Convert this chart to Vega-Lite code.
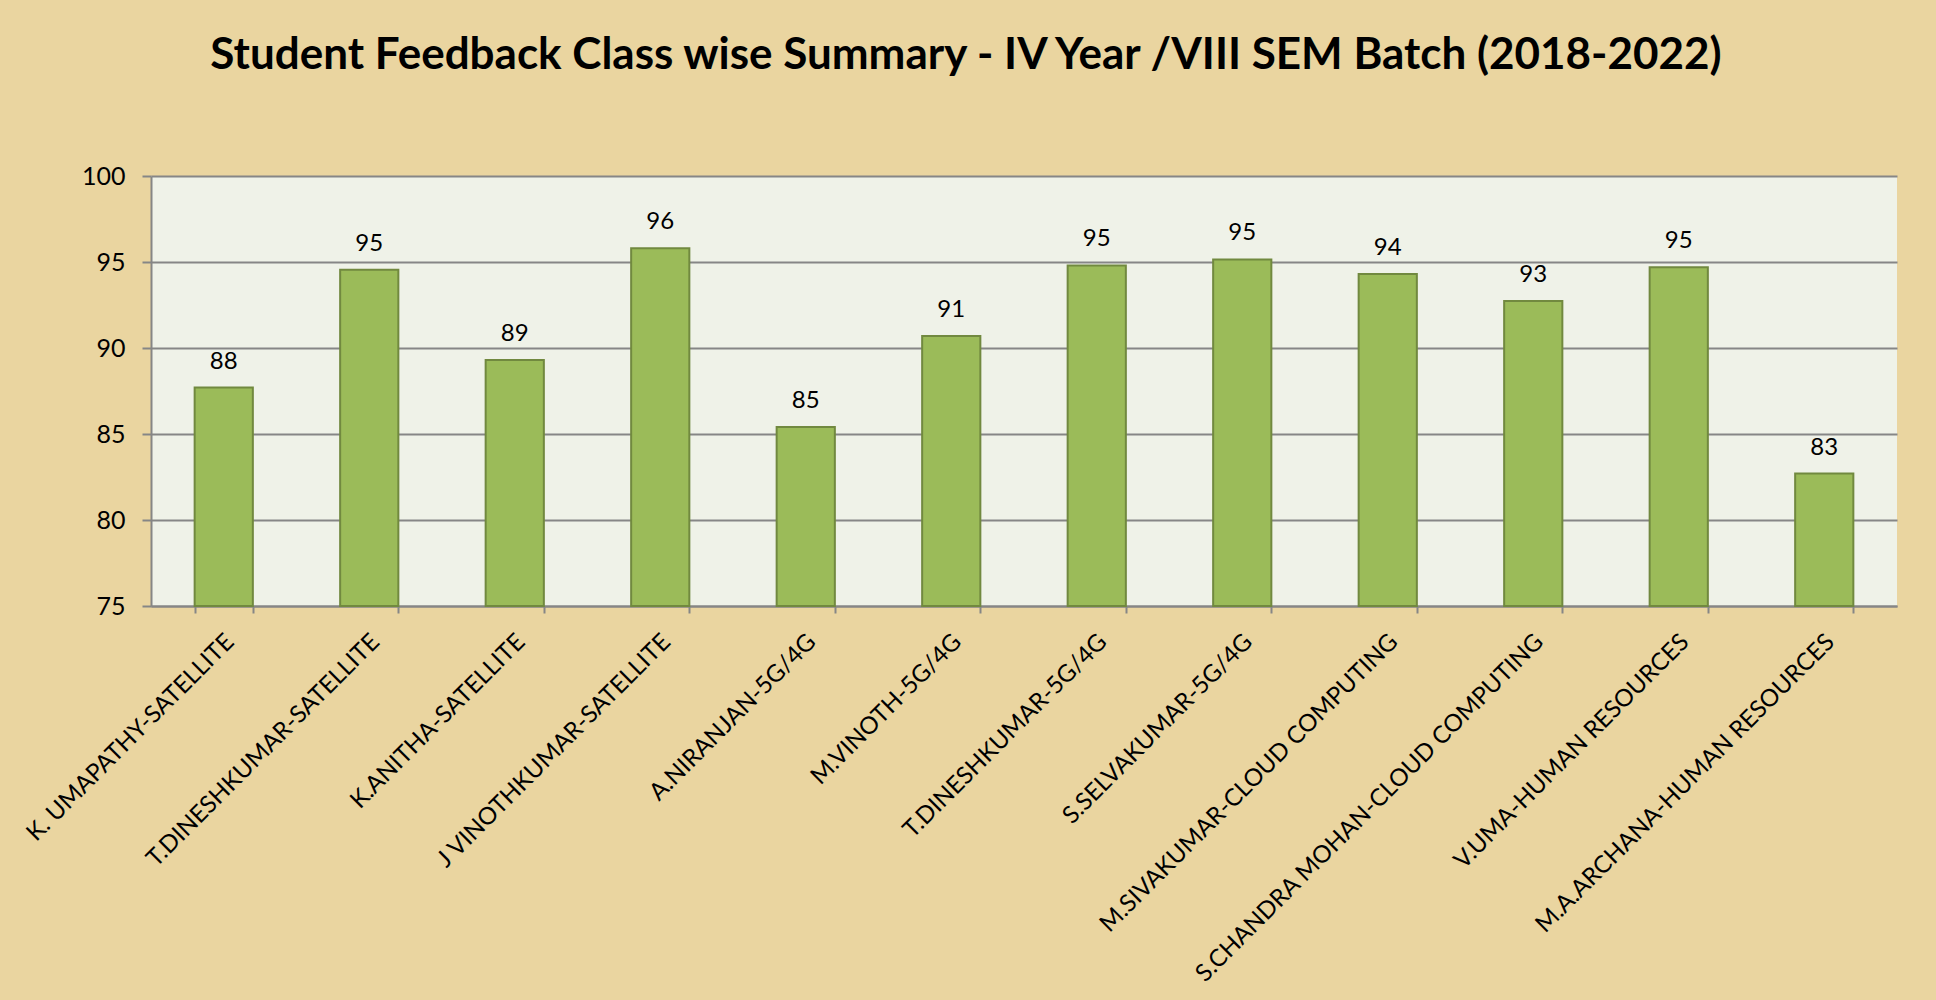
{
  "$schema": "https://vega.github.io/schema/vega-lite/v6.json",
  "autosize": {"type": "none"},
  "width": 1746,
  "height": 430,
  "padding": {"left": 151, "top": 176, "right": 39, "bottom": 394},
  "background": "#EAD5A0",
  "title": {
    "text": "Student Feedback Class wise Summary - IV Year /VIII SEM Batch (2018-2022)",
    "font": "Lato",
    "fontSize": 44,
    "fontWeight": "bold",
    "color": "#000000",
    "anchor": "middle",
    "baseline": "alphabetic",
    "dx": -58,
    "offset": 51
  },
  "config": {
    "view": {"fill": "#EFF2E8", "stroke": null},
    "axis": {"labelFont": "Lato", "labelColor": "#000000"}
  },
  "data": {
    "values": [
      {"name": "K. UMAPATHY-SATELLITE", "value": 87.7},
      {"name": "T.DINESHKUMAR-SATELLITE", "value": 94.55},
      {"name": "K.ANITHA-SATELLITE", "value": 89.3},
      {"name": "J VINOTHKUMAR-SATELLITE", "value": 95.8},
      {"name": "A.NIRANJAN-5G/4G", "value": 85.4},
      {"name": "M.VINOTH-5G/4G", "value": 90.7},
      {"name": "T.DINESHKUMAR-5G/4G", "value": 94.8},
      {"name": "S.SELVAKUMAR-5G/4G", "value": 95.15},
      {"name": "M.SIVAKUMAR-CLOUD COMPUTING", "value": 94.3},
      {"name": "S.CHANDRA MOHAN-CLOUD COMPUTING", "value": 92.73},
      {"name": "V.UMA-HUMAN RESOURCES", "value": 94.7},
      {"name": "M.A.ARCHANA-HUMAN RESOURCES", "value": 82.7}
    ]
  },
  "encoding": {
    "x": {
      "field": "name",
      "type": "nominal",
      "sort": null,
      "scale": {"paddingInner": 0.6, "paddingOuter": 0.3},
      "axis": {
        "title": null,
        "tickBand": "extent",
        "labelAngle": -45,
        "labelAlign": "right",
        "labelBaseline": "middle",
        "labelFontSize": 24,
        "labelPadding": 25,
        "labelOffset": 6,
        "labelLimit": 700,
        "tickSize": 7,
        "tickWidth": 2,
        "tickColor": "#868686",
        "domainColor": "#868686",
        "domainWidth": 2,
        "grid": false
      }
    }
  },
  "layer": [
    {
      "mark": {"type": "bar", "fill": "#9BBB59", "stroke": "#71893F", "strokeWidth": 2},
      "encoding": {
        "y": {
          "field": "value",
          "type": "quantitative",
          "scale": {"domain": [75, 100], "nice": false, "zero": false},
          "axis": {
            "title": null,
            "values": [75, 80, 85, 90, 95, 100],
            "labelFontSize": 25,
            "labelPadding": 17,
            "tickSize": 9,
            "tickWidth": 2,
            "tickColor": "#868686",
            "domainColor": "#868686",
            "domainWidth": 2,
            "grid": true,
            "gridColor": "#868686",
            "gridWidth": 2
          }
        },
        "y2": {"datum": 75}
      }
    },
    {
      "mark": {"type": "text", "font": "Lato", "fontSize": 24, "color": "#000000", "baseline": "alphabetic", "dy": -19},
      "encoding": {
        "y": {"field": "value", "type": "quantitative"},
        "text": {"field": "value", "type": "quantitative", "format": ".0f"}
      }
    }
  ]
}
